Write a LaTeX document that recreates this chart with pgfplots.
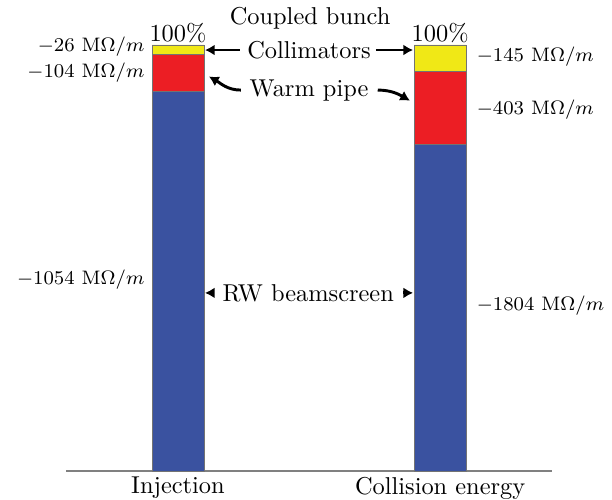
\documentclass[border=0pt]{standalone}
\usepackage{pgfplots}
\pgfplotsset{compat=1.18}
\usetikzlibrary{arrows.meta}

\definecolor{rwblue}{RGB}{58,82,160}
\definecolor{warmred}{RGB}{236,30,36}
\definecolor{collyellow}{RGB}{240,232,22}

% shares of the total, in percent
\pgfplotstableread{
x  rw     warm   coll
0  89.02  8.78   2.20
1  76.70  17.13  6.17
}\shares

\begin{document}
\begin{tikzpicture}[
  arr/.style={line width=1.2pt,-{Latex[length=4pt,width=4.5pt]}},
  imp/.style={inner sep=0pt, font=\fontsize{8.2}{10}\selectfont},
  ]
\begin{axis}[
  scale only axis,
  width=199.3pt, height=174.7pt,
  xmin=-0.427, xmax=1.427,
  ymin=0, ymax=100,
  axis x line=bottom,
  axis y line=none,
  x axis line style={-, gray, line width=0.6pt},
  ybar stacked, bar width=0.198, bar shift=0pt,
  xtick={0,1}, xticklabels={Injection, Collision energy},
  major tick length=0pt,
  xticklabel style={yshift=1pt},
  clip=false,
  every axis plot/.append style={draw=black!55, line width=0.3pt},
  ]
\addplot[fill=rwblue] table[x=x, y=rw] {\shares};
\addplot[fill=warmred] table[x=x, y=warm] {\shares};
\addplot[fill=collyellow] table[x=x, y=coll] {\shares};

\node at (axis cs:0.504,106.3) {Coupled bunch};
\node[anchor=south, inner sep=0.5pt] at (axis cs:0,100) {100\%};
\node[anchor=south, inner sep=0.5pt] at (axis cs:1,100) {100\%};

\node[imp, anchor=east] at (axis cs:-0.126,99.5) {$-26~\mathrm{M\Omega}/m$};
\node[imp, anchor=east] at (axis cs:-0.126,93.4) {$-104~\mathrm{M\Omega}/m$};
\node[imp, anchor=east] at (axis cs:-0.126,44.8) {$-1054~\mathrm{M\Omega}/m$};
\node[imp, anchor=west] at (axis cs:1.138,97.2) {$-145~\mathrm{M\Omega}/m$};
\node[imp, anchor=west] at (axis cs:1.138,84.7) {$-403~\mathrm{M\Omega}/m$};
\node[imp, anchor=west] at (axis cs:1.138,38.7) {$-1804~\mathrm{M\Omega}/m$};

\node at (axis cs:0.5,98.8) {Collimators};
\draw[arr] (axis cs:0.235,98.8) -- (axis cs:0.103,98.8);
\draw[arr] (axis cs:0.755,98.8) -- (axis cs:0.897,98.8);

\node at (axis cs:0.5,89.4) {Warm pipe};
\draw[arr] (axis cs:0.24,89.4) to[out=180,in=-30] (axis cs:0.118,92.6);
\draw[arr] (axis cs:0.762,89.4) to[out=0,in=150] (axis cs:0.885,86.9);

\node at (axis cs:0.497,41.8) {RW beamscreen};
\draw[arr] (axis cs:0.135,41.8) -- (axis cs:0.103,41.8);
\draw[arr] (axis cs:0.86,41.8) -- (axis cs:0.897,41.8);
\end{axis}
\pgfresetboundingbox
\path (-27.06pt,-11.48pt) rectangle (223.86pt,193.11pt);
\end{tikzpicture}
\end{document}
